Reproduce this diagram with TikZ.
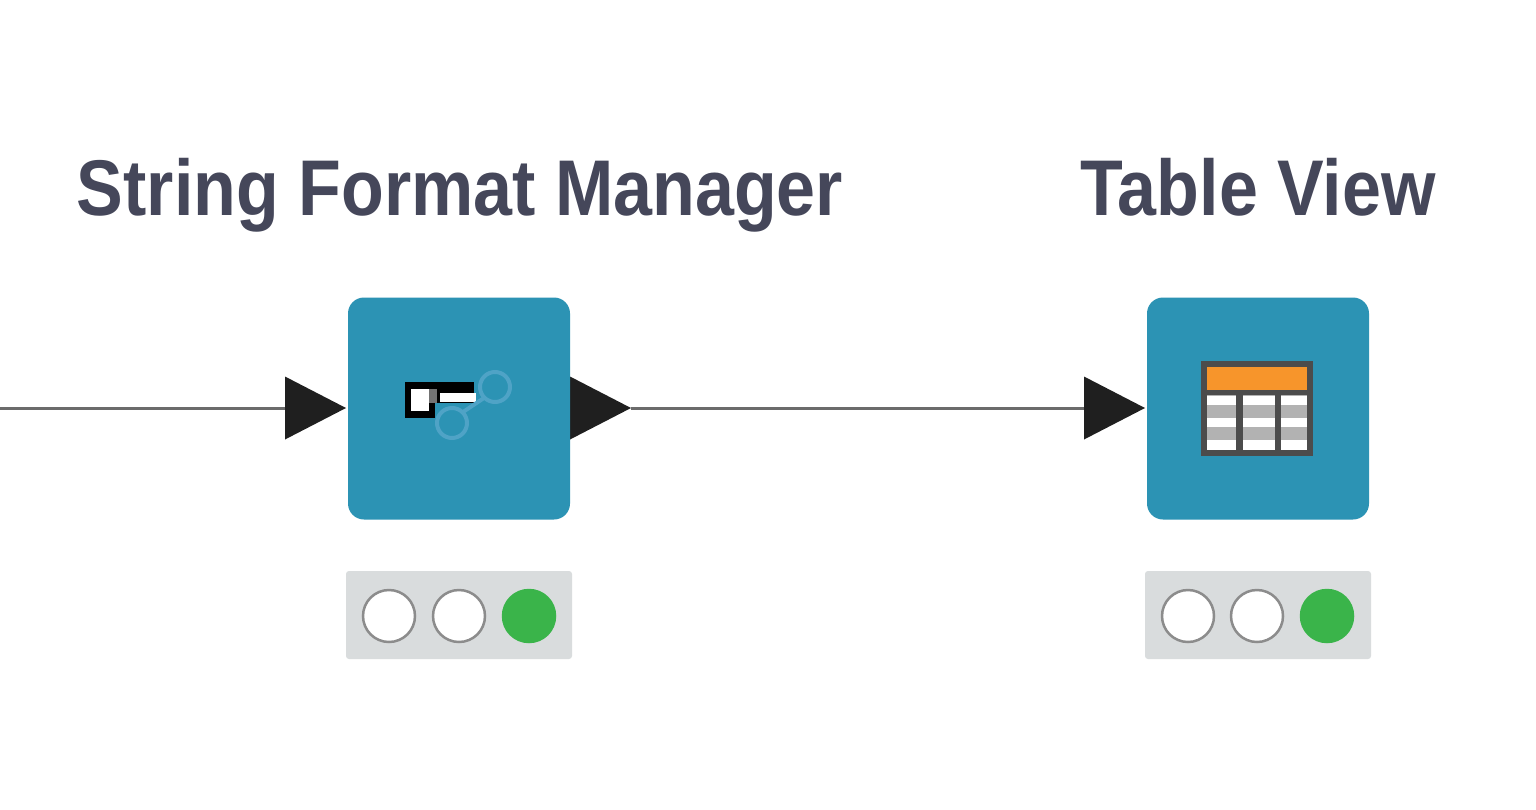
\documentclass[tikz,border=0pt]{standalone}
\usepackage{fontspec}
\setmainfont[FakeStretch=0.886]{Liberation Sans}
\usetikzlibrary{shapes.geometric}
\definecolor{nodeblue}{HTML}{2C93B4}
\definecolor{linkblue}{HTML}{4FA3C6}
\definecolor{labelink}{HTML}{45475A}
\definecolor{statusgrey}{HTML}{D9DCDD}
\definecolor{okgreen}{HTML}{3AB44A}
\definecolor{headorange}{HTML}{F7952B}
\tikzset{
  x=1pt,y=-1pt,
  nodebox/.style={fill=nodeblue,rounded corners=16pt,minimum width=222pt,minimum height=222pt,inner sep=0pt,draw=none},
  statusbar/.style={fill=statusgrey,rounded corners=3pt,minimum width=226pt,minimum height=88pt,inner sep=0pt},
  lamp/.style={circle,draw=#1,line width=2.5pt,minimum size=52pt,inner sep=0pt},
  lampoff/.style={lamp=black!45,fill=white},
  lampon/.style={lamp=okgreen,fill=okgreen},
  portarrow/.style={isosceles triangle,isosceles triangle apex angle=54,isosceles triangle stretches,fill=black!88,minimum height=61pt,minimum width=63pt,inner sep=0pt,outer sep=0pt,anchor=west},
  nodelabel/.style={text=labelink,font=\fontsize{79}{90}\selectfont\bfseries,anchor=base,inner sep=0pt},
  wire/.style={draw=black!58,line width=3pt},
}
\begin{document}
\begin{tikzpicture}
\useasboundingbox (0,0) rectangle (1536,809);
\fill[white] (0,0) rectangle (1536,809);
\coordinate (start) at (0,408);
% connectors
\node[portarrow] (inA) at (285,408) {};
\node[portarrow] (outA) at (570,408) {};
\node[portarrow] (inB) at (1084,408) {};
\draw[wire] (start) -- (inA.west);
\draw[wire] (outA.east) -- (inB.west);
% nodes
\node[nodebox] (manager) at (459,408.5) {};
\node[nodebox] (view) at (1258,408.5) {};
% labels
\node[nodelabel] (managerlabel) at (460,215) {String Format Manager};
\node[nodelabel] (viewlabel) at (1258,215) {Table View};
% status bars
\node[statusbar] (statusA) at (459,615) {};
\node[lampoff] (a1) at (389,616) {};
\node[lampoff] (a2) at (459,616) {};
\node[lampon] (a3) at (529,616) {};
\node[statusbar] (statusB) at (1258,615) {};
\node[lampoff] (b1) at (1188,616) {};
\node[lampoff] (b2) at (1257,616) {};
\node[lampon] (b3) at (1327,616) {};
% key-value icon
\fill[black] (405,382) rectangle (474,418);
\fill[nodeblue] (435,403) rectangle (474,418);
\fill[white] (411,389) rectangle (429,411);
\fill[black!55] (429,389) rectangle (437,403);
\fill[white] (440,393) rectangle (476,402);
\draw[linkblue,line width=4pt] (495,387) circle (15);
\draw[linkblue,line width=4pt] (452,423) circle (15);
\draw[linkblue,line width=4pt] (463,412) -- (484,398);
% table icon
\fill[black!70] (1201,361) rectangle (1313,456);
\fill[headorange] (1207,367) rectangle (1307,390);
\foreach \xa/\xb in {1207/1236,1243/1275,1281/1307}{
  \fill[black!30] (\xa,395) rectangle (\xb,450);
  \fill[white] (\xa,396) rectangle (\xb,405);
  \fill[white] (\xa,418) rectangle (\xb,427);
  \fill[white] (\xa,440) rectangle (\xb,450);
}
\end{tikzpicture}
\end{document}
